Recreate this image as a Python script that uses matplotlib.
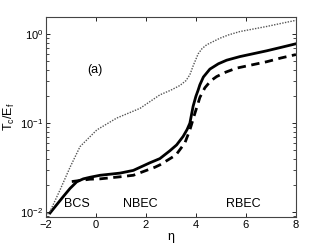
import matplotlib
matplotlib.use("Agg")
import matplotlib.pyplot as plt

plt.rcParams['font.family'] = ['Liberation Sans', 'DejaVu Sans']
plt.rcParams['mathtext.default'] = 'regular'

# solid curve
eta_solid = [-1.83, -1.3, -1.03, -0.76, -0.5, -0.23, 0.17, 0.97, 1.5, 2.17, 2.56, 2.96, 3.23, 3.49, 3.65, 3.76, 3.89, 4.0, 4.09, 4.16, 4.3, 4.56, 4.9, 5.23, 5.76, 6.83, 7.4, 8.0]
tc_solid = [0.0098, 0.015, 0.0185, 0.022, 0.0237, 0.0247, 0.026, 0.0275, 0.0295, 0.036, 0.040, 0.049, 0.057, 0.071, 0.085, 0.10, 0.155, 0.20, 0.235, 0.27, 0.33, 0.405, 0.465, 0.51, 0.56, 0.65, 0.71, 0.78]

# dashed curve
eta_dash = [-0.96, -0.23, 0.17, 0.97, 1.5, 2.36, 2.56, 3.09, 3.23, 3.56, 3.76, 3.96, 4.09, 4.16, 4.36, 4.6, 4.83, 5.2, 5.62, 6.83, 7.4, 8.0]
tc_dash = [0.0221, 0.0235, 0.0237, 0.025, 0.026, 0.032, 0.034, 0.042, 0.045, 0.060, 0.084, 0.129, 0.168, 0.195, 0.25, 0.30, 0.334, 0.375, 0.415, 0.49, 0.54, 0.59]

# dotted curve
eta_dot = [-1.93, -1.83, -1.43, -1.03, -0.63, 0.04, 0.83, 1.77, 2.56, 3.0, 3.36, 3.6, 3.76, 3.89, 4.09, 4.25, 4.43, 4.96, 5.3, 5.76, 6.83, 7.4, 8.0]
tc_dot = [0.0095, 0.0102, 0.0178, 0.032, 0.0546, 0.084, 0.114, 0.147, 0.208, 0.235, 0.265, 0.30, 0.35, 0.44, 0.60, 0.69, 0.76, 0.90, 0.98, 1.07, 1.22, 1.32, 1.43]

region_labels = ['BCS', 'NBEC', 'RBEC']
region_x = [-0.76, 1.77, 5.9]

fig = plt.figure(figsize=(3.27, 2.46), dpi=100)
ax = fig.add_axes([0.14, 0.119, 0.765, 0.811])

ax.semilogy(eta_solid, tc_solid, color='black', lw=2.0)
ax.semilogy(eta_dash, tc_dash, color='black', lw=2.0, ls=(0, (3, 2)))
ax.semilogy(eta_dot, tc_dot, color='#555555', lw=1.0, ls=(0, (1, 1)))

ax.set_xlim(-2, 8)
ax.set_ylim(0.0089, 1.55)
ax.set_xticks([-2, 0, 2, 4, 6, 8])
ax.set_xticklabels(['\u22122', '0', '2', '4', '6', '8'])
ax.tick_params(which='both', direction='in', top=True, right=True, labelsize=8, pad=2)
ax.tick_params(which='major', length=3, width=0.6)
ax.tick_params(which='minor', length=2, width=0.5)
for sp in ax.spines.values():
    sp.set_linewidth(0.8)
    sp.set_color('#444444')

for lab, x in zip(region_labels, region_x):
    ax.text(x, 0.0125, lab, ha='center', va='center', fontsize=9)
ax.text(-0.03, 0.40, '(a)', ha='center', va='center', fontsize=9)

ax.set_xlabel('\u03b7', fontsize=9, labelpad=1)
ax.set_ylabel('T$_c$/E$_f$', fontsize=9, labelpad=2)

fig.savefig('out.png', dpi=100)
